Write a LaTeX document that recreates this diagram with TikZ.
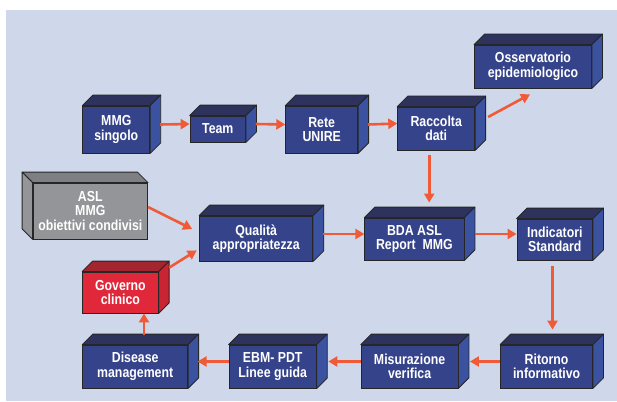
\documentclass[tikz,border=0pt]{standalone}
\usepackage{fontspec}
\setmainfont{Liberation Sans}[FakeStretch=0.85]
\usetikzlibrary{arrows.meta}

\definecolor{bgblue}{HTML}{CFD8EA}
\definecolor{boxblue}{HTML}{35438A}
\definecolor{boxtop}{HTML}{2E335E}
\definecolor{boxside}{HTML}{3A52A0}
\definecolor{boxgray}{HTML}{949598}
\definecolor{graytop}{HTML}{7E7F82}
\definecolor{boxred}{HTML}{E1283A}
\definecolor{redtop}{HTML}{A32530}
\definecolor{redside}{HTML}{C92432}
\definecolor{arrowred}{HTML}{F05A37}

\begin{document}
\begin{tikzpicture}[x=1pt, y=-1pt,
    box/.style = {draw=black!85, line width=0.8pt, fill=boxblue, text=white,
      font=\fontsize{14.5}{14.5}\selectfont\bfseries, align=center,
      inner sep=0pt},
    graybox/.style = {box, fill=boxgray},
    redbox/.style = {box, fill=boxred},
    face/.style = {draw=black!85, line width=0.8pt, line join=round},
    arr/.style = {draw=arrowred, line width=2.6pt,
      -{Triangle[length=9pt, width=10pt]}}]
  \useasboundingbox (0,0) rectangle (617,401);
  \fill[bgblue] (6,10) rectangle (617,401);

  % top row
  \node[box, minimum width=67pt, minimum height=47pt] (mmg) at (116.3,129.5) {MMG\\singolo};
  \node[box, minimum width=55.5pt, minimum height=26pt] (team) at (217.8,129) {Team};
  \node[box, minimum width=72pt, minimum height=47pt] (rete) at (321.7,129.5) {Rete\\UNIRE};
  \node[box, minimum width=77pt, minimum height=43pt] (raccolta) at (436.2,128.5) {Raccolta\\dati};
  \node[box, minimum width=117pt, minimum height=43pt] (oss) at (533,66.5) {Osservatorio\\epidemiologico};

  % middle row
  \node[graybox, minimum width=114.6pt, minimum height=56pt] (asl) at (90.3,211) {ASL\\MMG\\obiettivi condivisi};
  \node[box, minimum width=113.3pt, minimum height=45pt] (qual) at (256.2,238.5) {Qualità\\appropriatezza};
  \node[box, minimum width=99.2pt, minimum height=42pt] (bda) at (414.4,239) {BDA ASL\\Report~ MMG};
  \node[box, minimum width=75.6pt, minimum height=41pt] (ind) at (554.8,239.5) {Indicatori\\Standard};
  \node[redbox, minimum width=75.6pt, minimum height=41pt] (gov) at (120.4,292.5) {Governo\\clinico};

  % bottom row
  \node[box, minimum width=105pt, minimum height=43pt] (dis) at (135.2,366.5) {Disease\\management};
  \node[box, minimum width=87.4pt, minimum height=43pt] (ebm) at (272.7,366.5) {EBM- PDT\\Linee guida};
  \node[box, minimum width=96.8pt, minimum height=43pt] (mis) at (409.6,366.5) {Misurazione\\verifica};
  \node[box, minimum width=92pt, minimum height=43pt] (rit) at (546.6,366.5) {Ritorno\\informativo};

  % depth of the blue boxes
  \foreach \n in {mmg,team,rete,raccolta,oss,qual,bda,ind,dis,ebm,mis,rit} {
    \filldraw[face, fill=boxtop] (\n.north west) -- ++(10.5,-10.5)
      -- ([shift={(10.5,-10.5)}]\n.north east) -- (\n.north east) -- cycle;
    \filldraw[face, fill=boxside] (\n.north east) -- ++(10.5,-10.5)
      -- ([shift={(10.5,-10.5)}]\n.south east) -- (\n.south east) -- cycle;
  }
  % red box
  \filldraw[face, fill=redtop] (gov.north west) -- ++(10.5,-10.5)
    -- ([shift={(10.5,-10.5)}]gov.north east) -- (gov.north east) -- cycle;
  \filldraw[face, fill=redside] (gov.north east) -- ++(10.5,-10.5)
    -- ([shift={(10.5,-10.5)}]gov.south east) -- (gov.south east) -- cycle;
  % gray box, depth to the left
  \filldraw[face, fill=graytop] (asl.north east) -- ++(-10.5,-10.5)
    -- ([shift={(-10.5,-10.5)}]asl.north west) -- (asl.north west) -- cycle;
  \filldraw[face, fill=boxgray] (asl.north west) -- ++(-10.5,-10.5)
    -- ([shift={(-10.5,-10.5)}]asl.south west) -- (asl.south west) -- cycle;

  % arrows
  \draw[arr] ([shift={(10,-5)}]mmg.east) -- ([yshift=5pt]team.west);
  \draw[arr] ([shift={(10,-5)}]team.east) -- ([yshift=5pt]rete.west);
  \draw[arr] ([shift={(10,-5)}]rete.east) -- ([yshift=5pt]raccolta.west);
  \draw[arr] ([shift={(13,-11.5)}]raccolta.east) -- ([shift={(-3,6)}]oss.south);
  \draw[arr] ([shift={(-7,5)}]raccolta.south) coordinate (r1)
    -- ([yshift=15pt]r1 |- bda.north);
  \draw[arr] ([yshift=4pt]asl.east) -- ([shift={(-7,-9.5)}]qual.west);
  \draw[arr] ([shift={(10.6,-4)}]gov.north east) -- ([shift={(-2.5,-11)}]qual.south west);
  \draw[arr] ([shift={(9.5,-4.5)}]qual.east) -- ([yshift=5pt]bda.west);
  \draw[arr] ([shift={(10.6,-5)}]bda.east) -- ([yshift=5.5pt]ind.west);
  \draw[arr] ([shift={(-2.3,6)}]ind.south) coordinate (i1)
    -- ([yshift=15pt]i1 |- rit.north);
  \draw[arr] ([yshift=5pt]rit.west) -- ([shift={(11.5,-5)}]mis.east);
  \draw[arr] ([yshift=5pt]mis.west) -- ([shift={(11.5,-5)}]ebm.east);
  \draw[arr] ([yshift=5pt]ebm.west) -- ([shift={(9.5,-5)}]dis.east);
  \draw[arr] ([shift={(8.8,-10)}]dis.north) coordinate (d1) -- (d1 |- gov.south);
\end{tikzpicture}
\end{document}
